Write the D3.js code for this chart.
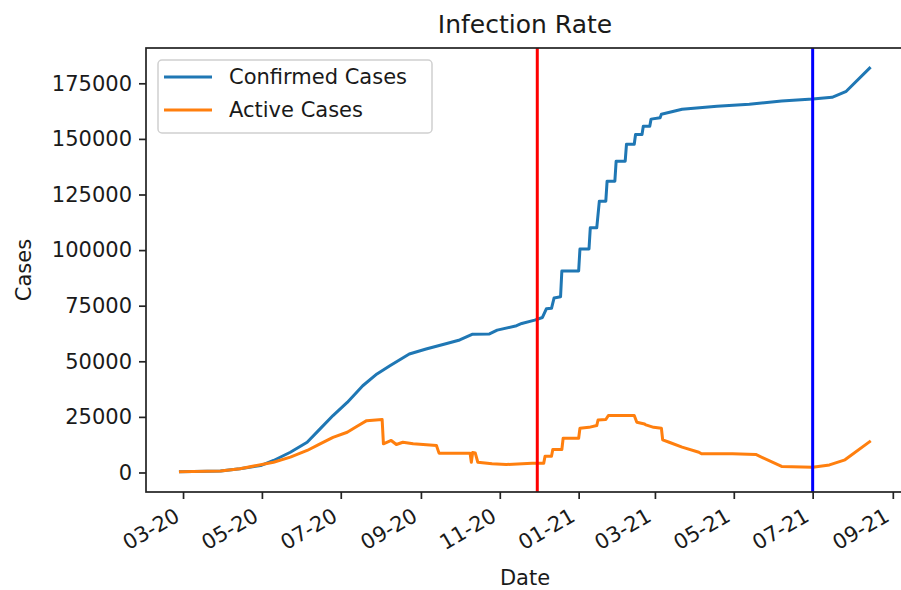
<!DOCTYPE html>
<html>
<head>
<meta charset="utf-8">
<script src="https://cdn.jsdelivr.net/npm/d3@7"></script>
<style>
  html, body { margin: 0; padding: 0; background: #fff; }
  text { font-family: "DejaVu Sans", sans-serif; fill: #1a1a1a; }
</style>
</head>
<body>
<svg id="chart" width="901" height="590"></svg>
<script>
// ---- data ----
const confirmedDates = ["2020-02-28","2020-03-30","2020-04-14","2020-04-30","2020-05-10","2020-05-23","2020-06-05","2020-06-15","2020-06-25","2020-07-06","2020-07-18","2020-07-29","2020-08-08","2020-08-23","2020-09-05","2020-09-21","2020-10-01","2020-10-11","2020-10-24","2020-10-30","2020-11-14","2020-11-18","2020-11-28","2020-12-04","2020-12-07","2020-12-11","2020-12-13","2020-12-18","2020-12-19","2021-01-01","2021-01-02","2021-01-09","2021-01-10","2021-01-15","2021-01-17","2021-01-22","2021-01-23","2021-01-29","2021-01-30","2021-02-06","2021-02-07","2021-02-13","2021-02-14","2021-02-19","2021-02-20","2021-02-25","2021-02-26","2021-03-05","2021-03-06","2021-03-22","2021-04-18","2021-05-13","2021-06-07","2021-07-01","2021-07-16","2021-07-27","2021-08-14"];
const confirmedValues = [300,700,1700,3100,5400,9100,13600,19600,25600,31500,39000,44300,48000,53300,55500,58000,59600,62200,62300,64000,66000,67000,68500,69700,73600,73800,78500,79000,90600,90600,100500,100500,110000,110000,122000,122000,131000,131000,140000,140000,147600,147600,152000,152000,155700,155700,158900,159500,161100,163300,164700,165600,167000,167900,168700,171400,181800];

const activeDates = ["2020-02-28","2020-03-30","2020-04-14","2020-05-10","2020-05-23","2020-06-05","2020-06-15","2020-06-25","2020-07-06","2020-07-13","2020-07-21","2020-08-02","2020-08-03","2020-08-09","2020-08-13","2020-08-18","2020-08-26","2020-09-13","2020-09-15","2020-10-01","2020-10-09","2020-10-10","2020-10-11","2020-10-13","2020-10-15","2020-10-26","2020-11-06","2020-11-26","2020-12-05","2020-12-06","2020-12-11","2020-12-12","2020-12-19","2020-12-20","2021-01-01","2021-01-02","2021-01-09","2021-01-15","2021-01-16","2021-01-22","2021-01-24","2021-02-13","2021-02-15","2021-02-21","2021-02-22","2021-02-28","2021-03-06","2021-03-07","2021-03-12","2021-03-22","2021-04-04","2021-04-06","2021-04-30","2021-05-18","2021-06-07","2021-07-01","2021-07-14","2021-07-26","2021-08-14"];
const activeValues = [300,700,1700,4600,6900,9900,12900,15800,18100,20600,23300,23800,12900,14400,12600,13600,12900,12100,8700,8600,8700,4600,9000,8800,4600,3900,3600,4200,4200,7300,7300,10300,10300,15400,15400,19900,20300,21100,23600,23800,25600,25600,22600,21800,21400,20300,19900,14700,13600,11400,9100,8400,8400,8100,2700,2400,3400,5700,13800];

const markerDates = ["2020-11-30","2021-07-01"];
const markerColors = ["#ff0000","#0000ff"];

const yTicks = [0,25000,50000,75000,100000,125000,150000,175000];
const xTickDates = ["2020-03-01","2020-05-01","2020-07-01","2020-09-01","2020-11-01","2021-01-01","2021-03-01","2021-05-01","2021-07-01","2021-09-01"];

const seriesNames = ["Confirmed Cases","Active Cases"];
const seriesColors = ["#1f77b4","#ff7f0e"];
const titleText = "Infection Rate";
const xLabel = "Date";
const yLabel = "Cases";

// ---- build ----
const parse = d3.utcParse("%Y-%m-%d");
const confirmed = confirmedDates.map((d,i)=>({date:parse(d), v:confirmedValues[i]}));
const active = activeDates.map((d,i)=>({date:parse(d), v:activeValues[i]}));

const svg = d3.select("#chart");
const L = 146, R = 904, T = 48, B = 492;

const allDates = confirmed.concat(active).map(d=>d.date);
const allVals = confirmed.concat(active).map(d=>d.v);
const [d0, d1] = d3.extent(allDates);
const span = d1 - d0;
const x = d3.scaleUtc().domain([new Date(+d0 - 0.05*span), new Date(+d1 + 0.05*span)]).range([L, R]);
const [v0, v1] = d3.extent(allVals);
const vspan = v1 - v0;
const y = d3.scaleLinear().domain([v0 - 0.05*vspan, v1 + 0.05*vspan]).range([B, T]);

const plot = svg.append("g");

// lines
const line = d3.line().x(d=>x(d.date)).y(d=>y(d.v));
[confirmed, active].forEach((s,i)=>{
  plot.append("path").datum(s).attr("d", line)
    .attr("fill","none").attr("stroke", seriesColors[i])
    .attr("stroke-width", 3).attr("stroke-linejoin","round").attr("stroke-linecap","square");
});

// vertical markers
markerDates.forEach((d,i)=>{
  const xx = x(parse(d));
  plot.append("line").attr("x1", xx).attr("x2", xx).attr("y1", T).attr("y2", B)
    .attr("stroke", markerColors[i]).attr("stroke-width", 3);
});

// spines
const spineW = 1.7;
svg.append("rect").attr("x", L).attr("y", T).attr("width", R-L).attr("height", B-T)
  .attr("fill","none").attr("stroke","#222").attr("stroke-width", spineW);

// y axis
const yAxis = svg.append("g").attr("transform", `translate(${L},0)`)
  .call(d3.axisLeft(y).tickValues(yTicks).tickSize(7).tickPadding(7).tickFormat(d3.format("d")));
yAxis.select(".domain").remove();
yAxis.selectAll(".tick line").attr("stroke","#222").attr("stroke-width", spineW);
yAxis.selectAll(".tick text").attr("font-size", 21).attr("fill","#1a1a1a")
  .attr("font-family","DejaVu Sans");

// x axis
const fmt = d3.utcFormat("%m-%y");
const xAxis = svg.append("g").attr("transform", `translate(0,${B})`)
  .call(d3.axisBottom(x).tickValues(xTickDates.map(parse)).tickSize(7).tickFormat(fmt));
xAxis.select(".domain").remove();
xAxis.selectAll(".tick line").attr("stroke","#222").attr("stroke-width", spineW);
xAxis.selectAll(".tick text")
  .attr("font-size", 21).attr("font-family","DejaVu Sans").attr("fill","#1a1a1a")
  .attr("text-anchor","end").attr("dy", null).attr("y", null)
  .attr("transform", "translate(-2.5,28) rotate(-30)");

// title and labels
svg.append("text").attr("x", (L+R)/2).attr("y", 33).attr("text-anchor","middle")
  .attr("font-size", 25).text(titleText);
svg.append("text").attr("x", (L+R)/2).attr("y", 585).attr("text-anchor","middle")
  .attr("font-size", 21).text(xLabel);
svg.append("text").attr("transform", `translate(31,${(T+B)/2}) rotate(-90)`)
  .attr("text-anchor","middle").attr("font-size", 21).text(yLabel);

// legend
const lg = svg.append("g");
lg.append("rect").attr("x", 158).attr("y", 60).attr("width", 274).attr("height", 73)
  .attr("rx", 4).attr("fill","#fff").attr("fill-opacity",0.8)
  .attr("stroke","#d0d0d0").attr("stroke-width",1.5);
seriesNames.forEach((n,i)=>{
  const yy = 77 + i*33;
  lg.append("line").attr("x1",164).attr("x2",212).attr("y1",yy).attr("y2",yy)
    .attr("stroke", seriesColors[i]).attr("stroke-width",3);
  lg.append("text").attr("x",229).attr("y",yy).attr("dy","0.35em")
    .attr("font-size",21).text(n);
});
</script>
</body>
</html>
